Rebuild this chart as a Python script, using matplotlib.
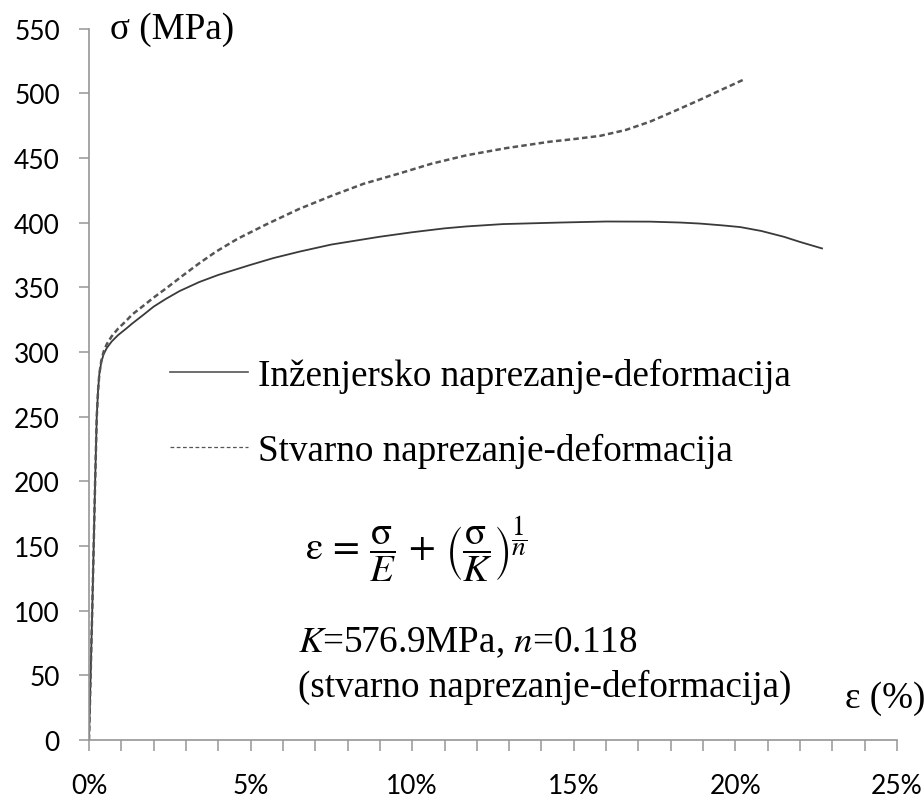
import matplotlib
matplotlib.use('Agg')
import matplotlib.pyplot as plt
from matplotlib.lines import Line2D
from matplotlib.ticker import MultipleLocator

# ---- data (strain in %, stress in MPa) ----
eng_strain = [0, 0.10, 0.19, 0.24, 0.28, 0.32, 0.38, 0.45, 0.55, 0.70, 0.90, 1.15,
              1.34, 1.7, 2.0, 2.38, 2.8, 3.41, 4.0, 4.96, 5.7, 6.51, 7.5, 8.99,
              10.0, 11.0, 11.68, 12.8, 14.57, 16.0, 17.36, 18.3, 18.91, 19.6,
              20.15, 20.8, 21.5, 22.0, 22.68]
eng_stress = [0, 100, 200, 250, 270, 283, 292, 298, 303, 308, 313, 318,
              322, 329, 335, 341, 347, 354, 359.5, 367, 372.5, 377.5, 383, 389,
              392.5, 395.5, 397, 398.8, 400, 400.8, 400.7, 400, 399.2, 397.8,
              396.5, 393.5, 389, 385, 380]

true_strain = [0, 0.10, 0.19, 0.24, 0.28, 0.32, 0.38, 0.45, 0.55, 0.70, 0.90, 1.15,
               1.34, 1.7, 2.0, 2.38, 2.9, 3.41, 3.93, 4.6, 5.48, 6.5, 7.54, 8.5,
               9.61, 10.6, 11.68, 12.9, 14.26, 15.0, 15.81, 16.6, 17.36, 18.1,
               18.91, 19.6, 20.3]
true_stress = [0, 100, 200, 250, 270, 283, 293, 300, 306, 312, 318, 324,
               329, 336, 342, 349, 359, 368.5, 377.5, 387.5, 398.5, 410.5, 421, 430,
               438, 445.5, 452, 457.5, 462.5, 464.5, 467, 471.5, 478, 486,
               495, 503, 511]

x_ticks = [0, 5, 10, 15, 20, 25]
x_tick_labels = ['0%', '5%', '10%', '15%', '20%', '25%']
y_ticks = [0, 50, 100, 150, 200, 250, 300, 350, 400, 450, 500, 550]

legend_labels = ['Inženjersko naprezanje-deformacija', 'Stvarno naprezanje-deformacija']
y_label = 'σ (MPa)'
x_label = 'ε (%)'
formula = (r'$\mathrm{\varepsilon}\,=\,\dfrac{\mathrm{\sigma}}{E}\,+\,'
           r'\left(\dfrac{\mathrm{\sigma}}{K}\right)^{\dfrac{1}{n}}$')
param_text = r'$K$=576.9MPa, $n$=0.118'
note_text = '(stvarno naprezanje-deformacija)'

plt.rcParams['mathtext.fontset'] = 'stix'
W, H = 924, 803
fig = plt.figure(figsize=(W / 100, H / 100), dpi=100)
ax = fig.add_axes([89 / W, 1 - 741 / H, (897 - 89) / W, (741 - 29.5) / H])

axis_col = '#969696'
ax.plot(eng_strain, eng_stress, color='#3a3a3a', lw=1.3)
ax.plot(true_strain, true_stress, color='#555555', lw=1.8, dashes=(2.2, 1.3))

ax.set_xlim(0, 25)
ax.set_ylim(0, 550)
for s in ['top', 'right']:
    ax.spines[s].set_visible(False)
for s in ['left', 'bottom']:
    ax.spines[s].set_color(axis_col)
    ax.spines[s].set_linewidth(1.2)

tick_font = dict(family='Lato', size=19)
ax.set_xticks(x_ticks)
ax.set_xticklabels(x_tick_labels, fontdict=tick_font)
ax.xaxis.set_minor_locator(MultipleLocator(1))
ax.set_yticks(y_ticks)
ax.set_yticklabels([str(v) for v in y_ticks], fontdict=tick_font)
ax.tick_params(axis='x', which='both', direction='out', length=8, width=1.1,
               color=axis_col, pad=16)
ax.tick_params(axis='y', which='both', direction='out', length=7, width=1.1,
               color=axis_col, pad=14)

serif = 'Liberation Serif'
fs = 26.7
handles = [Line2D([], [], color='#555555', lw=1.2),
           Line2D([], [], color='#555555', lw=0.9, dashes=(3, 2))]
em = fs * 100 / 72
leg = ax.legend(handles, legend_labels, loc='upper left',
                bbox_to_anchor=(170 / W, 1 - 359 / H), bbox_transform=fig.transFigure,
                frameon=False, borderpad=0, borderaxespad=0,
                handlelength=78 / em, handletextpad=10 / em, labelspacing=1.06,
                prop=dict(family=serif, size=fs))

def fx(px):
    return px / W

def fy(py):
    return 1 - py / H

fig.text(fx(110), fy(39), y_label, family=serif, size=fs, va='baseline', ha='left')
fig.text(fx(845), fy(708), x_label, family=serif, size=fs, va='baseline', ha='left')
fig.text(fx(305), fy(560), formula, family=serif, size=28, va='baseline', ha='left')
fig.text(fx(298), fy(652), param_text, family=serif, size=fs, va='baseline', ha='left')
fig.text(fx(298), fy(697), note_text, family=serif, size=fs, va='baseline', ha='left')

fig.savefig('out.png', dpi=100)
